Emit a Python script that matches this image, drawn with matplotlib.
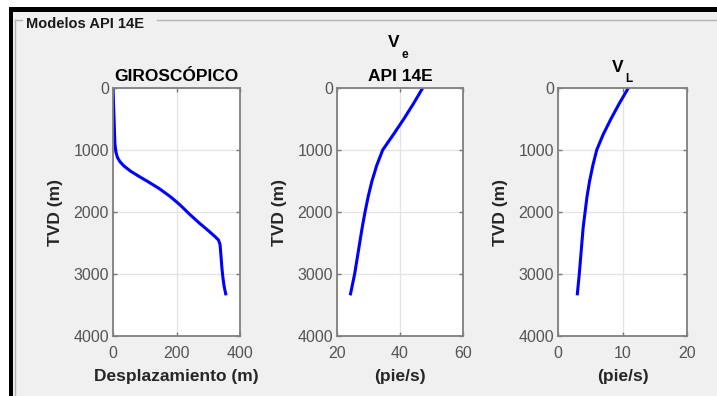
import numpy as np
import matplotlib
matplotlib.use("Agg")
from matplotlib import pyplot as plt
from matplotlib.patches import Rectangle
from matplotlib.lines import Line2D

plt.rcParams['font.family'] = ['Liberation Sans', 'DejaVu Sans']

# giroscopico survey
disp = [0, 2, 4, 6, 9, 14, 22, 35, 55, 80, 110, 145, 180, 210, 240, 270, 300, 322, 332, 337, 340, 343, 346, 350, 355]
tvd_gyro = [0, 300, 600, 900, 1030, 1120, 1190, 1260, 1340, 1420, 1510, 1620, 1750, 1880, 2030, 2170, 2300, 2400,
            2450, 2520, 2700, 2900, 3050, 3200, 3320]

# velocities vs depth
tvd_v = [0, 250, 500, 750, 1000, 1250, 1500, 1750, 2000, 2250, 2500, 2750, 3000, 3320]
ve = [47.2, 44.3, 41.2, 37.9, 34.5, 32.6, 31.1, 29.9, 28.9, 28.0, 27.2, 26.4, 25.6, 24.3]
vl = [10.9, 9.5, 8.2, 7.0, 6.0, 5.4, 4.9, 4.5, 4.2, 3.9, 3.7, 3.5, 3.3, 3.0]

yticks = [0, 1000, 2000, 3000, 4000]

W, H = 717, 396
fig = plt.figure(figsize=(W / 100, H / 100), dpi=100)
fig.patch.set_facecolor('#f0f0f0')


def px(x0, y0, x1, y1):
    return [x0 / W, 1 - y1 / H, (x1 - x0) / W, (y1 - y0) / H]


def ftext(x, y, s, **kw):
    fig.text(x / W, 1 - y / H, s, va='baseline', **kw)


# screenshot frame: white margin, black border, panel box
fig.add_artist(Rectangle((0, 1 - 7 / H), 1, 7 / H, transform=fig.transFigure, color='white', lw=0))
fig.add_artist(Rectangle((0, 0), 9 / W, 1, transform=fig.transFigure, color='white', lw=0))
fig.add_artist(Rectangle((9 / W, 1 - 12 / H), 1, 5 / H, transform=fig.transFigure, color='black', lw=0))
fig.add_artist(Rectangle((9 / W, 0), 4 / W, 1 - 7 / H, transform=fig.transFigure, color='black', lw=0))
fig.add_artist(Line2D([14.5 / W, 14.5 / W], [0, 1 - 20 / H], transform=fig.transFigure, color='#b4b4b4', lw=1))
fig.add_artist(Line2D([14.5 / W, 22 / W], [1 - 20 / H, 1 - 20 / H], transform=fig.transFigure, color='#b4b4b4', lw=1))
fig.add_artist(Line2D([157 / W, 1], [1 - 20 / H, 1 - 20 / H], transform=fig.transFigure, color='#b4b4b4', lw=1))
ftext(26, 28, 'Modelos API 14E', fontsize=10.5, fontweight='bold', color='#1a1a1a')

ax1 = fig.add_axes(px(113, 88, 240, 336))
ax2 = fig.add_axes(px(337, 88, 463, 336))
ax3 = fig.add_axes(px(558, 88, 687, 336))

ax1.plot(disp, tvd_gyro, color='#0000ff', lw=2.2)
ax2.plot(ve, tvd_v, color='#0000ff', lw=2.2)
ax3.plot(vl, tvd_v, color='#0000ff', lw=2.2)

ax1.set_xlim(0, 400)
ax1.set_xticks([0, 200, 400])
ax2.set_xlim(20, 60)
ax2.set_xticks([20, 40, 60])
ax3.set_xlim(0, 20)
ax3.set_xticks([0, 10, 20])

tkw = dict(fontsize=12.5, fontweight='bold', color='black')
ax1.set_title('GIROSCÓPICO', pad=5, **tkw)
ax2.set_title('API 14E', pad=5, **tkw)
# subscripted titles placed like the MATLAB ones
ftext(388, 47, 'V', **tkw)
ftext(401.5, 57.5, 'e', fontsize=8.5, fontweight='bold', color='black')
ftext(612, 72, 'V', **tkw)
ftext(625, 82.5, 'L', fontsize=8.5, fontweight='bold', color='black')

lkw = dict(fontsize=12.5, fontweight='bold', color='#262626')
ax1.set_xlabel('Desplazamiento (m)', labelpad=6, **lkw)
ax2.set_xlabel('(pie/s)', labelpad=6, **lkw)
ax3.set_xlabel('(pie/s)', labelpad=6, **lkw)

for ax in [ax1, ax2, ax3]:
    ax.set_ylim(4000, 0)
    ax.set_yticks(yticks)
    ax.set_ylabel('TVD (m)', labelpad=7, **lkw)
    ax.set_facecolor('white')
    ax.grid(True, color='#e3e3e3', lw=0.9)
    ax.set_axisbelow(True)
    ax.tick_params(direction='in', top=True, right=True, length=3, width=1,
                   color='#777777', labelcolor='#555555', labelsize=11.5)
    ax.tick_params(axis='x', pad=7)
    ax.tick_params(axis='y', pad=3)
    for s in ax.spines.values():
        s.set_color('#808080')
        s.set_linewidth(1.3)

fig.savefig('out.png', dpi=100, facecolor=fig.get_facecolor())
